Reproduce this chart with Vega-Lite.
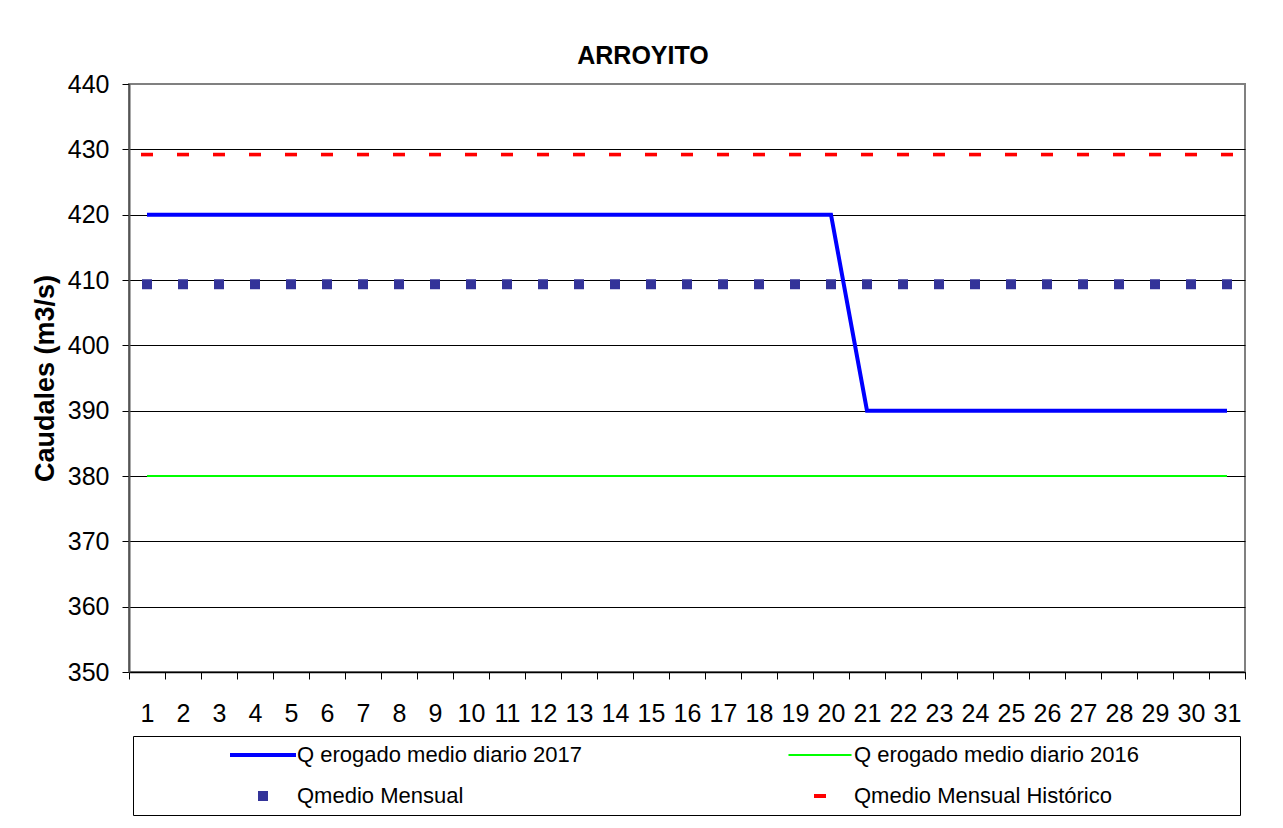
{
  "$schema": "https://vega.github.io/schema/vega-lite/v6.json",
  "width": 1116,
  "height": 588,
  "autosize": "none",
  "padding": {"left": 129, "top": 84, "right": 38, "bottom": 156},
  "background": "white",
  "config": {
    "font": "Liberation Sans",
    "view": {"stroke": "#808080", "strokeWidth": 2},
    "axis": {"labelFont": "Liberation Sans", "titleFont": "Liberation Sans", "labelColor": "#000", "titleColor": "#000"}
  },
  "title": {"text": "ARROYITO", "fontSize": 25, "fontWeight": "bold", "font": "Liberation Sans", "color": "#000", "anchor": "middle", "frame": "group", "dx": -44, "offset": 3},
  "data": {
    "values": [
      {"dia": 1, "q2017": 420, "q2016": 380, "qmedio": 409.35, "qhist": 429.2},
      {"dia": 2, "q2017": 420, "q2016": 380, "qmedio": 409.35, "qhist": 429.2},
      {"dia": 3, "q2017": 420, "q2016": 380, "qmedio": 409.35, "qhist": 429.2},
      {"dia": 4, "q2017": 420, "q2016": 380, "qmedio": 409.35, "qhist": 429.2},
      {"dia": 5, "q2017": 420, "q2016": 380, "qmedio": 409.35, "qhist": 429.2},
      {"dia": 6, "q2017": 420, "q2016": 380, "qmedio": 409.35, "qhist": 429.2},
      {"dia": 7, "q2017": 420, "q2016": 380, "qmedio": 409.35, "qhist": 429.2},
      {"dia": 8, "q2017": 420, "q2016": 380, "qmedio": 409.35, "qhist": 429.2},
      {"dia": 9, "q2017": 420, "q2016": 380, "qmedio": 409.35, "qhist": 429.2},
      {"dia": 10, "q2017": 420, "q2016": 380, "qmedio": 409.35, "qhist": 429.2},
      {"dia": 11, "q2017": 420, "q2016": 380, "qmedio": 409.35, "qhist": 429.2},
      {"dia": 12, "q2017": 420, "q2016": 380, "qmedio": 409.35, "qhist": 429.2},
      {"dia": 13, "q2017": 420, "q2016": 380, "qmedio": 409.35, "qhist": 429.2},
      {"dia": 14, "q2017": 420, "q2016": 380, "qmedio": 409.35, "qhist": 429.2},
      {"dia": 15, "q2017": 420, "q2016": 380, "qmedio": 409.35, "qhist": 429.2},
      {"dia": 16, "q2017": 420, "q2016": 380, "qmedio": 409.35, "qhist": 429.2},
      {"dia": 17, "q2017": 420, "q2016": 380, "qmedio": 409.35, "qhist": 429.2},
      {"dia": 18, "q2017": 420, "q2016": 380, "qmedio": 409.35, "qhist": 429.2},
      {"dia": 19, "q2017": 420, "q2016": 380, "qmedio": 409.35, "qhist": 429.2},
      {"dia": 20, "q2017": 420, "q2016": 380, "qmedio": 409.35, "qhist": 429.2},
      {"dia": 21, "q2017": 390, "q2016": 380, "qmedio": 409.35, "qhist": 429.2},
      {"dia": 22, "q2017": 390, "q2016": 380, "qmedio": 409.35, "qhist": 429.2},
      {"dia": 23, "q2017": 390, "q2016": 380, "qmedio": 409.35, "qhist": 429.2},
      {"dia": 24, "q2017": 390, "q2016": 380, "qmedio": 409.35, "qhist": 429.2},
      {"dia": 25, "q2017": 390, "q2016": 380, "qmedio": 409.35, "qhist": 429.2},
      {"dia": 26, "q2017": 390, "q2016": 380, "qmedio": 409.35, "qhist": 429.2},
      {"dia": 27, "q2017": 390, "q2016": 380, "qmedio": 409.35, "qhist": 429.2},
      {"dia": 28, "q2017": 390, "q2016": 380, "qmedio": 409.35, "qhist": 429.2},
      {"dia": 29, "q2017": 390, "q2016": 380, "qmedio": 409.35, "qhist": 429.2},
      {"dia": 30, "q2017": 390, "q2016": 380, "qmedio": 409.35, "qhist": 429.2},
      {"dia": 31, "q2017": 390, "q2016": 380, "qmedio": 409.35, "qhist": 429.2}
    ]
  },
  "encoding": {
    "x": {
      "field": "dia", "type": "quantitative",
      "scale": {"domain": [0.5, 31.5], "nice": false, "zero": false},
      "axis": {
        "title": null, "grid": false,
        "values": [0.5,1,1.5,2,2.5,3,3.5,4,4.5,5,5.5,6,6.5,7,7.5,8,8.5,9,9.5,10,10.5,11,11.5,12,12.5,13,13.5,14,14.5,15,15.5,16,16.5,17,17.5,18,18.5,19,19.5,20,20.5,21,21.5,22,22.5,23,23.5,24,24.5,25,25.5,26,26.5,27,27.5,28,28.5,29,29.5,30,30.5,31,31.5],
        "labelExpr": "datum.value % 1 === 0 ? format(datum.value, 'd') : ''",
        "labelOverlap": false, "labelFlush": false, "labelBound": false,
        "labelFontSize": 25, "labelPadding": 22, "labelColor": "#000",
        "tickSize": 7, "tickColor": "#000", "tickWidth": 1,
        "tickOpacity": {"condition": {"test": "datum.value % 1 === 0", "value": 0}, "value": 1},
        "domainColor": "#000", "domainWidth": 1.5
      }
    },
    "y": {
      "type": "quantitative",
      "scale": {"domain": [350, 440], "nice": false, "zero": false},
      "axis": {
        "title": "Caudales (m3/s)", "titleFontSize": 27, "titleFontWeight": "bold", "titlePadding": 8,
        "values": [350, 360, 370, 380, 390, 400, 410, 420, 430, 440],
        "labelFontSize": 25, "labelPadding": 13,
        "tickSize": 7, "tickColor": "#000",
        "grid": true, "gridColor": {"condition": {"test": "datum.value === 440", "value": "#808080"}, "value": "#000"},
        "gridWidth": 1, "gridOpacity": 1,
        "domainColor": "#555", "domainWidth": 2
      }
    },
    "color": {
      "type": "nominal",
      "scale": {
        "domain": ["Q erogado medio diario 2017", "Q erogado medio diario 2016", "Qmedio Mensual", "Qmedio Mensual Histórico"],
        "range": ["#0000FF", "#00FF00", "#333399", "#FF0000"]
      },
      "legend": {
        "orient": "none", "legendX": 4, "legendY": 652,
        "direction": "horizontal",
        "columns": 2, "padding": 8,
        "strokeColor": "#000", "fillColor": "white",
        "symbolSize": 256, "symbolStrokeWidth": 4,
        "symbolOffset": 111, "labelOffset": 23, "columnPadding": 116, "rowPadding": 19,
        "labelFont": "Liberation Sans", "labelFontSize": 22, "labelColor": "#000", "labelLimit": 0,
        "title": "\u00a0", "titleOrient": "right", "titlePadding": 93, "titleFontSize": 22,
        "encode": {
          "symbols": {
            "update": {
              "shape": {"signal": "datum.value === 'Q erogado medio diario 2017' ? 'M-4.125,0H4.125' : datum.value === 'Q erogado medio diario 2016' ? 'M-3.94,0H3.94' : datum.value === 'Qmedio Mensual' ? 'M-0.625,-0.625H0.625V0.625H-0.625Z' : 'M-0.75,-0.25H0.75V0.25H-0.75Z'"},
              "strokeWidth": {"signal": "datum.value === 'Q erogado medio diario 2017' ? 4 : datum.value === 'Q erogado medio diario 2016' ? 2 : 0"},
              "stroke": {"scale": "color", "field": "value"},
              "fill": {"scale": "color", "field": "value"},
              "fillOpacity": {"value": 1},
              "strokeOpacity": {"value": 1},
              "opacity": {"value": 1}
            }
          }
        }
      }
    }
  },
  "layer": [
    {
      "mark": {"type": "line", "strokeWidth": 2},
      "encoding": {"y": {"field": "q2016"}, "color": {"datum": "Q erogado medio diario 2016"}}
    },
    {
      "mark": {"type": "point", "filled": true, "opacity": 1, "shape": "M-1,-0.3H1V0.3H-1Z", "size": 144},
      "encoding": {"y": {"field": "qhist"}, "color": {"datum": "Qmedio Mensual Histórico"}}
    },
    {
      "mark": {"type": "point", "filled": true, "opacity": 1, "shape": "square", "size": 100},
      "encoding": {"y": {"field": "qmedio"}, "color": {"datum": "Qmedio Mensual"}}
    },
    {
      "mark": {"type": "line", "strokeWidth": 4},
      "encoding": {"y": {"field": "q2017"}, "color": {"datum": "Q erogado medio diario 2017"}}
    }
  ]
}
